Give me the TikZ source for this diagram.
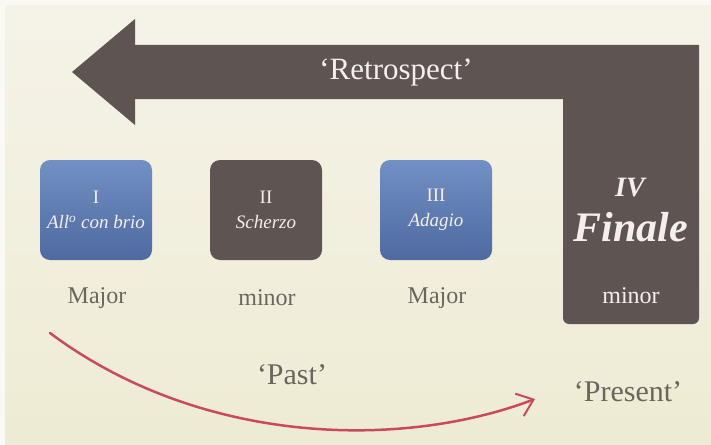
\documentclass[tikz,border=0pt]{standalone}
\usepackage{fontspec}
\setmainfont{Liberation Serif}
\usetikzlibrary{arrows.meta}

\definecolor{bgtop}{HTML}{F5F3E8}
\definecolor{bgbot}{HTML}{EEEBD4}
\definecolor{bgedge}{HTML}{FAF9F3}
\definecolor{slate}{HTML}{5E5553}
\definecolor{bluetop}{HTML}{7190C3}
\definecolor{bluebot}{HTML}{4E6AA1}
\definecolor{labelgray}{HTML}{6B665D}
\definecolor{pastred}{HTML}{C94A5D}
\definecolor{paletext}{HTML}{F4EFEC}

\begin{document}
\begin{tikzpicture}[x=1pt, y=-1pt,
    movement/.style={rounded corners=10pt, minimum width=112pt, minimum height=100pt,
        align=center, text=paletext, inner sep=0pt, font=\fontsize{19}{25}\selectfont},
    majorbox/.style={movement, top color=bluetop, bottom color=bluebot},
    minorbox/.style={movement, fill=slate},
    keylabel/.style={text=labelgray, font=\fontsize{24}{28}\selectfont},
    timelabel/.style={text=labelgray, font=\fontsize{30}{34}\selectfont}]

    % background
    \useasboundingbox (0,0) rectangle (711,444);
    \fill[bgedge] (0,0) rectangle (711,444);
    \fill[top color=bgtop, bottom color=bgbot] (5,6) rectangle (711,444);

    % retrospect arrow
    \fill[slate] (72,72) -- (135,19) -- (135,45) -- (699,45)
        [rounded corners=6pt] -- (699,324) -- (563,324) [sharp corners] -- (563,99)
        -- (135,99) -- (135,125) -- cycle;
    \node[text=paletext, font=\fontsize{31}{36}\selectfont] (retro) at (396,72) {`Retrospect'};

    % movements
    \node[majorbox] (mvtI) at (96,210) {I\\\itshape All\textsuperscript{o} con brio};
    \node[minorbox] (mvtII) at (266,210) {II\\\itshape Scherzo};
    \node[majorbox] (mvtIII) at (436,210) {III\\\itshape Adagio};

    \node[text=paletext, font=\fontsize{28}{30}\selectfont\bfseries\itshape] (ivnum) at (630,188) {IV};
    \node[text=paletext, font=\fontsize{42}{44}\selectfont\bfseries\itshape] (finale) at (631,227) {Finale};

    % modes
    \node[keylabel] (modeI) at (97,298) {Major};
    \node[keylabel] (modeII) at (267,298) {minor};
    \node[keylabel] (modeIII) at (437,298) {Major};
    \node[keylabel, text=paletext] (modeIV) at (631,296) {minor};

    % past -> present
    \node[timelabel] (past) at (292,375) {`Past'};
    \node[timelabel] (present) at (628,392) {`Present'};
    \coordinate (pastStart) at (50,333);
    \coordinate (presentEnd) at (535,399);
    \draw[pastred, line width=2.5pt, line cap=round,
        -{Straight Barb[length=15pt, width=24pt, line width=2pt]}]
        (pastStart) .. controls (200,445) and (400,450) .. (presentEnd);

\end{tikzpicture}
\end{document}
